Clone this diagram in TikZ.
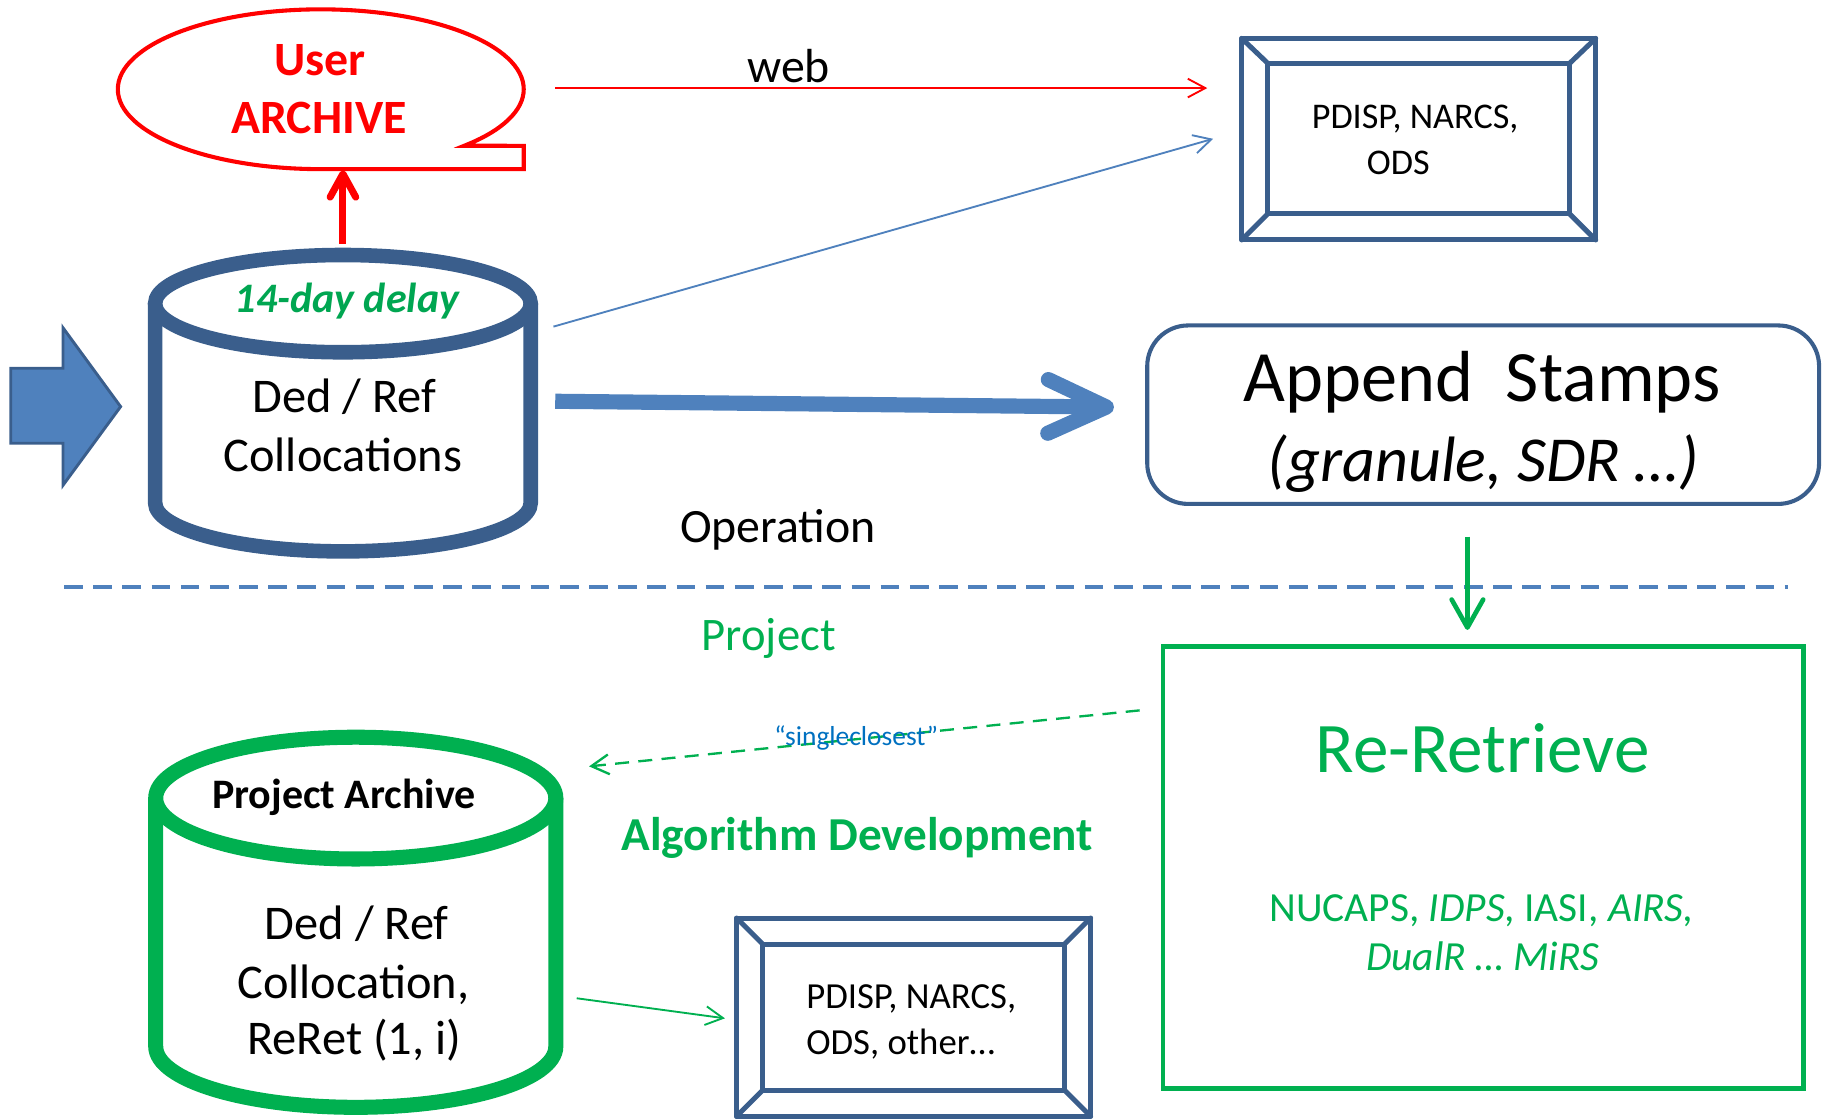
\documentclass[tikz,border=0pt]{standalone}
\usepackage{fontspec}
\setmainfont{Carlito}
\usetikzlibrary{arrows.meta}

\definecolor{edgeblue}{HTML}{3A5E8C}
\definecolor{fillblue}{HTML}{4F81BD}
\definecolor{projgreen}{HTML}{00B050}
\definecolor{delaygreen}{HTML}{00A651}
\definecolor{noteblue}{HTML}{0070C0}
\definecolor{alertred}{HTML}{FF0000}

\newcommand\fsz[1]{\fontsize{#1pt}{#1pt}\selectfont}

\begin{document}
\begin{tikzpicture}[x=1pt,y=1pt,
  lbl/.style={inner sep=0pt, anchor=base},
  lblw/.style={inner sep=0pt, anchor=base west},
  bevelbox/.style={draw=edgeblue, line width=4.3pt, inner sep=0pt, outer sep=0pt, line join=round},
  bevelline/.style={draw=edgeblue, line width=4.3pt, line cap=round, line join=round},
  cylwall/.style={line width=12.5pt},
  thinarrow/.style={line width=1.6pt, -{Straight Barb[length=15pt,width=16pt]}},
]
\useasboundingbox (0,0) rectangle (1568,-959);

% ---------- user archive callout ----------
\draw[alertred, line width=3.5pt, fill=white, line join=miter]
  (275,-145) arc[start angle=270,end angle=-45,x radius=174,y radius=68.5]
  -- (449,-125) -- (449,-145) -- cycle;
\node[lbl, text=alertred, font=\fsz{41}\bfseries] (userA) at (274.5,-64.3) {User};
\node[lbl, text=alertred, font=\fsz{41}\bfseries] (userB) at (273.5,-114.3) {ARCHIVE};

% ---------- input block arrow ----------
\draw[fill=fillblue, draw=edgeblue, line width=2.5pt, line join=miter]
  (9.2,-315.7) -- (54,-315.7) -- (54,-281) -- (103.4,-348.6) -- (54,-416)
  -- (54,-380) -- (9.2,-380) -- cycle;

% ---------- operational collocation store ----------
\fill[white] (133,-260.3) -- (133,-431)
  arc[start angle=180,end angle=360,x radius=161,y radius=41.7] -- (455,-260.3) -- cycle;
\draw[edgeblue, cylwall] (133,-260.3) -- (133,-431)
  arc[start angle=180,end angle=360,x radius=161,y radius=41.7] -- (455,-260.3);
\draw[edgeblue, cylwall, fill=white] (294,-260.3) ellipse[x radius=161,y radius=41.7];
\node[lbl, text=delaygreen, font=\fsz{36}\bfseries\itshape] (delay) at (297.4,-267.5) {14-day delay};
\node[lbl, font=\fsz{41.5}] (dedA) at (295,-354) {Ded / Ref};
\node[lbl, font=\fsz{41.5}] (dedB) at (294,-404.6) {Collocations};

% ---------- operational consumers ----------
\node[bevelbox, minimum width=303.5pt, minimum height=172.8pt] (pdispA) at (1216.25,-119.3) {};
\draw[bevelline] ([shift={(22.5,-21.5)}]pdispA.north west) rectangle ([shift={(-22.5,22.5)}]pdispA.south east);
\draw[bevelline] (pdispA.north west) -- ++(22.5,-21.5);
\draw[bevelline] (pdispA.north east) -- ++(-22.5,-21.5);
\draw[bevelline] (pdispA.south west) -- ++(22.5,22.5);
\draw[bevelline] (pdispA.south east) -- ++(-22.5,22.5);
\node[lblw, font=\fsz{31}] (pdispA1) at (1124.4,-110) {PDISP, NARCS,};
\node[lblw, font=\fsz{31}] (pdispA2) at (1171.6,-150) {ODS};

% ---------- append stamps ----------
\node[draw=edgeblue, line width=3.5pt, rounded corners=35pt, minimum width=576pt,
      minimum height=153pt, inner sep=0pt, outer sep=0pt] (stamps) at (1271.5,-355.5) {};
\node[lbl, font=\fsz{62}] (stampsA) at (1270.6,-344.3) {Append\ \ Stamps};
\node[lbl, font=\fsz{55}\itshape] (stampsB) at (1271.6,-413) {(granule, SDR …)};

% ---------- section labels and divider ----------
\node[lbl, font=\fsz{41}] (webL) at (676,-71) {web};
\node[lbl, font=\fsz{41}] (operL) at (667,-465) {Operation};
\node[lbl, text=projgreen, font=\fsz{40}] (projL) at (659,-558) {Project};
\coordinate (divL) at (55,-503);
\coordinate (divR) at (1533,-503);
\draw[fillblue, line width=3.4pt, dash pattern=on 16pt off 9pt] (divL) -- (divR);

% ---------- re-retrieve ----------
\node[draw=projgreen, line width=4pt, minimum width=549pt, minimum height=379pt,
      inner sep=0pt, outer sep=0pt] (reret) at (1271.5,-743.5) {};
\node[lbl, text=projgreen, font=\fsz{61}] (reretA) at (1271,-662) {Re-Retrieve};
\node[lbl, text=projgreen, font=\fsz{35.5}] (reretB) at (1270,-789.6) {NUCAPS, \textit{IDPS}, IASI, \textit{AIRS,}};
\node[lbl, text=projgreen, font=\fsz{35.5}\itshape] (reretC) at (1271,-832.4) {DualR … MiRS};

\node[lbl, text=projgreen, font=\fsz{40.5}\bfseries] (algo) at (735,-728.8) {Algorithm Development};

% ---------- project archive store ----------
\fill[white] (133.5,-684.2) -- (133.5,-897.1)
  arc[start angle=180,end angle=360,x radius=171.5,y radius=52.2] -- (476.5,-684.2) -- cycle;
\draw[projgreen, line width=12.9pt] (133.5,-684.2) -- (133.5,-897.1)
  arc[start angle=180,end angle=360,x radius=171.5,y radius=52.2] -- (476.5,-684.2);
\draw[projgreen, line width=12.9pt, fill=white] (305,-684.2) ellipse[x radius=171.5,y radius=52.2];
\node[lbl, font=\fsz{36}\bfseries] (projArch) at (294.8,-693) {Project Archive};
\node[lbl, font=\fsz{41.5}] (projA) at (305.8,-805.8) {Ded / Ref};
\node[lbl, font=\fsz{41.5}] (projB) at (303,-855.8) {Collocation,};
\node[lbl, font=\fsz{41.5}] (projC) at (303.6,-904.4) {ReRet (1, i)};

% ---------- project consumers ----------
\node[bevelbox, minimum width=303.5pt, minimum height=170pt] (pdispB) at (783.25,-872) {};
\draw[bevelline] ([shift={(22.5,-22.5)}]pdispB.north west) rectangle ([shift={(-22.5,22.5)}]pdispB.south east);
\draw[bevelline] (pdispB.north west) -- ++(22.5,-22.5);
\draw[bevelline] (pdispB.north east) -- ++(-22.5,-22.5);
\draw[bevelline] (pdispB.south west) -- ++(22.5,22.5);
\draw[bevelline] (pdispB.south east) -- ++(-22.5,22.5);
\node[lblw, font=\fsz{31.5}] (pdispB1) at (691,-864.4) {PDISP, NARCS,};
\node[lblw, font=\fsz{31.5}] (pdispB2) at (691,-904.4) {ODS, other…};

% ---------- connectors ----------
\coordinate (dedTop) at (294,-209);
\coordinate (userBottom) at (294,-146);
\draw[alertred, line width=6pt, -{Straight Barb[length=20pt,width=22pt,round]}] (dedTop) -- (userBottom);

\coordinate (webStart) at (476,-75.5);
\coordinate (webEnd) at (1035,-75.5);
\draw[alertred, thinarrow] (webStart) -- (webEnd);

\coordinate (dedUp) at (474.5,-280);
\coordinate (pdispIn) at (1040,-119);
\draw[fillblue, thinarrow] (dedUp) -- (pdispIn);

\coordinate (dedRight) at (476,-344);
\coordinate (stampsIn) at (955,-349);
\draw[fillblue, line width=13pt, -{Straight Barb[length=50pt,width=46pt,round]}] (dedRight) -- (stampsIn);

\coordinate (stampsOut) at (1258,-460);
\coordinate (reretIn) at (1258,-540);
\draw[projgreen, line width=4pt, -{Straight Barb[length=24pt,width=27pt,round]}] (stampsOut) -- (reretIn);

\coordinate (reretOut) at (977,-609);
\coordinate (projIn) at (505,-657);
\draw[projgreen, line width=2pt, dash pattern=on 12pt off 8pt, -{Straight Barb[length=15pt,width=17pt]}] (reretOut) -- (projIn);
\node[lbl, text=noteblue, font=\fsz{23.5}] (single) at (734,-638.7) {“singleclosest”};

\coordinate (projOut) at (494.4,-855.8);
\coordinate (pdispBIn) at (621.5,-873);
\draw[projgreen, thinarrow] (projOut) -- (pdispBIn);
\end{tikzpicture}
\end{document}
